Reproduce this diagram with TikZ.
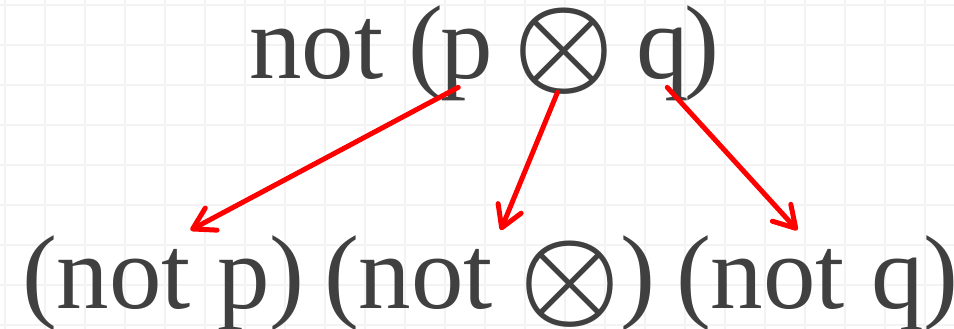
\documentclass[tikz,border=0pt]{standalone}
\usepackage{fontspec}
\setmainfont{Liberation Serif}
\usepackage{xcolor}
\usepackage{graphicx}
\usepackage{tikz}
\usetikzlibrary{arrows.meta, calc}
\definecolor{ink}{HTML}{404040}
\definecolor{gridgray}{HTML}{F3F3F3}
\definecolor{arrowred}{HTML}{FF0000}

\newcommand{\ox}{\scalebox{11.3}{\normalsize\boldmath$\otimes$}}

\begin{document}
\begin{tikzpicture}[
  x=1pt, y=-1pt,
  every node/.style={inner sep=0pt, outer sep=0pt, text=ink,
    font=\fontsize{105}{120}\selectfont},
  word/.style={anchor=base west},
  gridline/.style={draw=gridgray, line width=1.5pt},
  edge/.style={-{Straight Barb[length=21pt, width=25pt, round]},
    line width=5pt, draw=arrowred, line cap=round},
]
\useasboundingbox[fill=white] (0,0) rectangle (954,329);

% background grid
\foreach \gx in {5,45,...,925} \draw[gridline] (\gx,0) -- (\gx,329);
\foreach \gy in {5,45,...,325} \draw[gridline] (0,\gy) -- (954,\gy);

% top expression
\node[word] (topnot) at (249,79) {not};
\node[word] (toplp) at (408,79) {(};
\node[word] (topp) at (440,79) {p};
\node (topox) at (564.5,51) {\ox};
\node[word] (topq) at (636,79) {q};
\node[word] (toprp) at (684,79) {)};

% bottom expressions
\node[word] (botp) at (22,308) {(not p)};
\node[word] (botox) at (324,308) {(not \raisebox{-4.5pt}{\ox})};
\node[word] (botq) at (676,308) {(not q)};

\draw[edge] ($(topp.south)+(-8,-14)$) -- ($(botp.north)+(27,-5)$);
\draw[edge] ($(topox.south)+(-7,-2)$) -- ($(botox.north)+(11,-5)$);
\draw[edge] ($(topq.south)+(5,-14)$) -- ($(botq.north)+(-20,-5)$);
\end{tikzpicture}
\end{document}
